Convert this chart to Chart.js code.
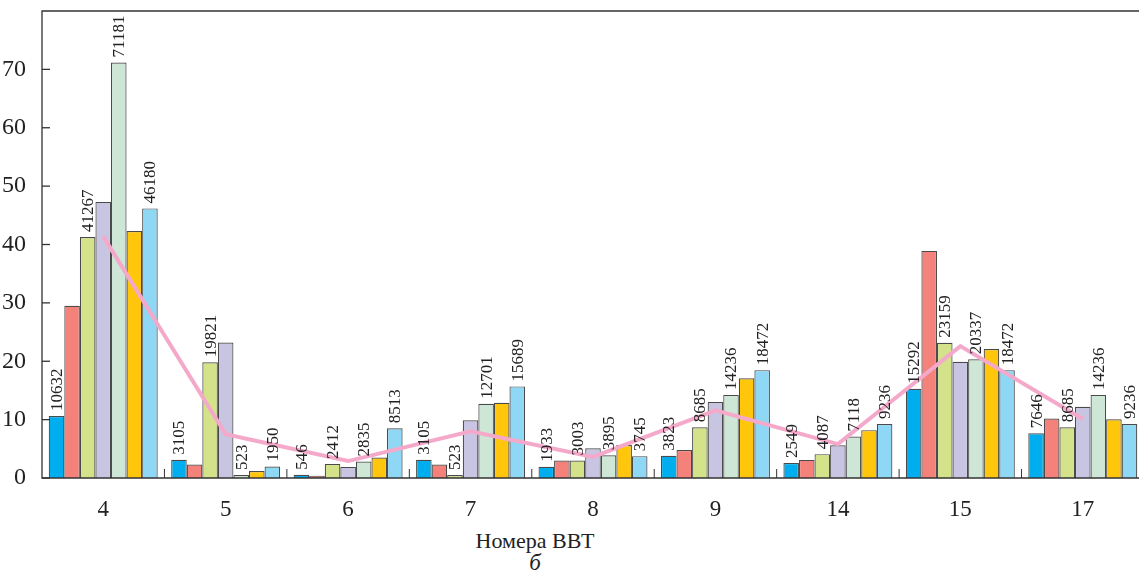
<!DOCTYPE html>
<html>
<head>
<meta charset="utf-8">
<script src="https://cdn.jsdelivr.net/npm/chart.js@4/dist/chart.umd.min.js"></script>
<style>
body{margin:0;background:#fff;overflow:hidden;width:1139px;height:570px;position:relative;font-family:"Liberation Serif","DejaVu Serif",serif;}
#wrap{position:absolute;left:0;top:0;width:1146px;height:520px;}
.cap{position:absolute;color:#222;white-space:nowrap;transform:translate(-50%,-50%);}
</style>
</head>
<body>
<div id="wrap"><canvas id="c"></canvas></div>
<div class="cap" style="left:535px;top:541px;font-size:22px;">Номера ВВТ</div>
<div class="cap" style="left:535px;top:563px;font-size:23px;font-style:italic;">б</div>
<script>

// -------------------------------------
// DATA
// -------------------------------------

const categories = ["4","5","6","7","8","9","14","15","17"];

const s1 = [10.632, 3.105, 0.546, 3.105, 1.933, 3.823, 2.549, 15.292, 7.646];
const s2 = [29.5, 2.3, 0.4, 2.3, 3.0, 4.8, 3.1, 38.9, 10.2];
const s3 = [41.267, 19.821, 2.412, 0.523, 3.003, 8.685, 4.087, 23.159, 8.685];
const s4 = [47.3, 23.2, 1.9, 9.9, 5.1, 13.0, 5.6, 19.9, 12.2];
const s5 = [71.181, 0.523, 2.835, 12.701, 3.895, 14.236, 7.118, 20.337, 14.236];
const s6 = [42.3, 1.2, 3.5, 12.9, 5.65, 17.1, 8.2, 22.1, 10.05];
const s7 = [46.18, 1.95, 8.513, 15.689, 3.745, 18.472, 9.236, 18.472, 9.236];

const s1Labels = ["10632","3105","546","3105","1933","3823","2549","15292","7646"];
const s3Labels = ["41267","19821","2412","523","3003","8685","4087","23159","8685"];
const s5Labels = ["71181","523","2835","12701","3895","14236","7118","20337","14236"];
const s7Labels = ["46180","1950","8513","15689","3745","18472","9236","18472","9236"];

const trend = [41.4, 7.5, 2.9, 8.0, 3.6, 11.6, 5.8, 22.6, 10.1];

const yTicks = [0,10,20,30,40,50,60,70];

const colors = ["#00AEEF","#F4827A","#D4E28A","#C8C5E2","#CDE6D6","#FFC60B","#8ED8F5"];


// -------------------------------------
// FRAME, INNER TICKS, BAR LABELS
// -------------------------------------

const framePlugin = {
id: "frame",
afterDatasetsDraw(chart){

const ctx = chart.ctx;
const a = chart.chartArea;
const x = chart.scales.x;
const y = chart.scales.y;

ctx.save();

// bar value labels, rotated
ctx.fillStyle = "#222";
ctx.font = "17px 'Liberation Serif'";
ctx.textAlign = "left";
ctx.textBaseline = "middle";
chart.data.datasets.forEach((ds, di) => {
if(!ds.valueLabels) return;
const meta = chart.getDatasetMeta(di);
meta.data.forEach((bar, i) => {
ctx.save();
ctx.translate(bar.x, bar.y - 5);
ctx.rotate(-Math.PI / 2);
ctx.fillText(ds.valueLabels[i], 0, 1);
ctx.restore();
});
});

ctx.strokeStyle = "#333";
ctx.lineWidth = 1.3;

// frame
ctx.beginPath();
ctx.moveTo(a.left, a.bottom);
ctx.lineTo(a.left, a.top);
ctx.lineTo(a.right, a.top);
ctx.lineTo(a.right, a.bottom);
ctx.closePath();
ctx.stroke();

// y ticks pointing inward
yTicks.forEach(v => {
const py = y.getPixelForValue(v);
ctx.beginPath();
ctx.moveTo(a.left, py);
ctx.lineTo(a.left + 8, py);
ctx.stroke();
});

// separators between groups
ctx.lineWidth = 1;
for(let i = 1; i < categories.length; i++){
const px = (x.getPixelForValue(i - 1) + x.getPixelForValue(i)) / 2;
ctx.beginPath();
ctx.moveTo(px, a.bottom);
ctx.lineTo(px, a.bottom - 9);
ctx.stroke();
}

ctx.restore();

}
};


// -------------------------------------
// CHART
// -------------------------------------

function barSet(values, color, labels){
return {
type: "bar",
data: values,
backgroundColor: color,
borderColor: "#4a4a4a",
borderWidth: 1.2,
categoryPercentage: 0.89,
barPercentage: 1,
valueLabels: labels,
order: 2
};
}

new Chart(document.getElementById("c"), {

data: {
labels: categories,
datasets: [
{
type: "line",
data: trend,
borderColor: "#F5A9CA",
borderWidth: 4,
pointRadius: 0,
tension: 0,
fill: false,
order: 1
},
barSet(s1, colors[0], s1Labels),
barSet(s2, colors[1], null),
barSet(s3, colors[2], s3Labels),
barSet(s4, colors[3], null),
barSet(s5, colors[4], s5Labels),
barSet(s6, colors[5], null),
barSet(s7, colors[6], s7Labels)
]
},

options: {
responsive: true,
maintainAspectRatio: false,
animation: false,
layout: {padding: {top: 11, right: 2, left: 0, bottom: 0}},
plugins: {legend: {display: false}, tooltip: {enabled: false}},
scales: {
x: {
offset: true,
grid: {display: false},
border: {display: false},
ticks: {
color: "#222",
padding: 10,
font: {family: "'Liberation Serif'", size: 23}
},
afterFit(scale){ scale.height = 42; }
},
y: {
min: 0,
max: 80,
grid: {display: false},
border: {display: false},
ticks: {
stepSize: 10,
color: "#222",
padding: 8,
font: {family: "'Liberation Serif'", size: 24}
},
afterBuildTicks(scale){
scale.ticks = yTicks.map(v => ({value: v}));
},
afterFit(scale){
scale.width = 42;
scale.paddingTop = 0;
scale.paddingBottom = 0;
}
}
}
},

plugins: [framePlugin]

});

</script>
</body>
</html>
